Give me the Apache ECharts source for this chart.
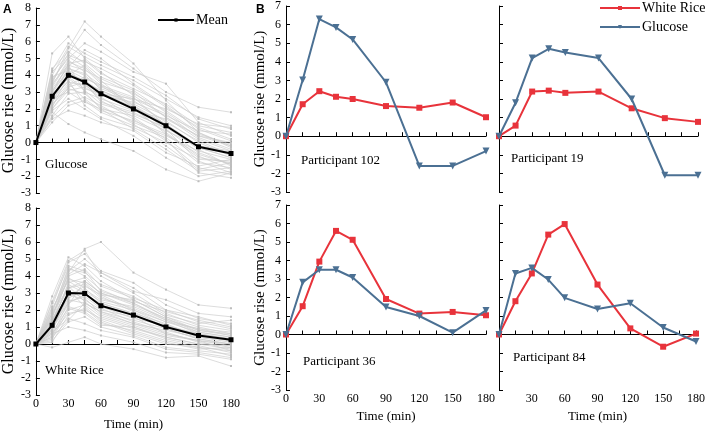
<!DOCTYPE html>
<html>
<head>
<meta charset="utf-8">
<script src="https://cdn.jsdelivr.net/npm/echarts@6/dist/echarts.min.js"></script>
<style>html,body{margin:0;padding:0;background:#fff}#c{width:708px;height:432px}</style>
</head>
<body>
<div id="c"></div>
<script>
const times = [0, 15, 30, 45, 60, 90, 120, 150, 180];
const xTickLabels = [0, 30, 60, 90, 120, 150, 180];

// Panel A: mean curves
const meanGlucose = [0, 2.75, 4.0, 3.6, 2.9, 2.0, 1.0, -0.25, -0.65];
const meanRice = [0, 1.1, 3.0, 2.97, 2.25, 1.7, 1.0, 0.5, 0.25];

// Panel A: individual glucose responses (read approximately)
const indGlucose = [
  [0,2.8,4.1,3.7,3.0,2.1,1.1,-0.2,-0.6],
  [0,5.3,6.3,5.0,4.2,2.8,1.5,0.2,-0.5],
  [0,3.5,5.6,7.2,6.3,4.7,2.5,0.6,-0.3],
  [0,1.2,2.2,2.5,1.8,1.0,0.3,-1.2,-1.5],
  [0,2.0,3.1,3.3,2.7,1.5,0.2,-1.8,-2.1],
  [0,4.2,5.2,4.8,4.4,3.4,2.1,0.9,0.2],
  [0,3.0,4.6,4.3,3.8,2.9,1.9,0.6,-0.2],
  [0,2.4,3.5,2.6,1.9,1.3,0.5,-0.9,-1.2],
  [0,3.8,5.0,5.9,5.4,4.2,3.5,1.2,0.4],
  [0,1.8,1.1,0.6,0.2,-0.5,-1.6,-2.3,-1.8],
  [0,2.6,4.4,4.0,3.2,2.5,1.2,0.1,-0.7],
  [0,3.3,4.8,4.4,3.5,2.2,0.8,-0.6,-1.3],
  [0,2.9,3.8,3.1,2.3,1.7,0.9,-0.3,-0.9],
  [0,1.6,2.9,3.0,2.6,1.9,1.4,0.4,-0.2],
  [0,4.0,5.7,5.1,4.6,3.7,2.6,1.5,1.0],
  [0,2.2,3.4,3.9,3.3,2.6,1.7,0.3,-0.4],
  [0,3.1,4.2,3.5,2.5,1.4,0.1,-1.5,-1.9],
  [0,2.5,3.7,2.2,1.5,0.9,0.0,-1.0,-1.1],
  [0,3.6,5.3,6.7,5.8,4.4,3.0,2.1,1.8],
  [0,2.1,4.0,4.6,3.7,2.0,0.6,-0.8,-1.6],
  [0,3.4,4.9,4.2,3.1,2.3,1.3,0.0,-0.8],
  [0,1.4,1.9,1.6,1.2,0.7,-0.6,-1.4,-1.0],
  [0,2.7,3.6,3.4,2.8,2.4,1.6,0.7,0.5],
  [0,4.4,5.4,4.7,3.9,3.1,1.8,0.5,-0.1],
  [0,2.3,3.2,2.9,2.1,1.2,0.4,-0.5,-1.0],
  [0,3.2,4.5,5.5,5.0,3.5,2.2,0.8,0.1],
  [0,1.9,2.6,2.0,1.4,0.4,-0.9,-2.0,-1.7],
  [0,3.9,4.3,3.8,3.4,2.7,1.0,-0.4,-1.4],
  [0,2.6,3.0,2.4,2.0,1.6,0.7,-0.2,-0.5],
  [0,3.0,4.7,4.9,4.1,3.2,2.3,1.0,0.6],
  [0,2.4,4.2,3.6,2.4,1.8,0.8,-1.1,-1.8],
  [0,3.7,5.1,4.5,3.6,3.0,1.5,0.4,0.0],
  [0,1.5,2.4,2.7,2.2,1.1,-0.2,-1.6,-1.2],
  [0,2.8,3.9,3.2,2.9,2.6,2.0,1.1,0.9],
  [0,3.5,4.6,3.0,2.0,0.8,-0.4,-1.7,-1.5],
  [0,2.0,3.3,3.6,3.1,2.2,1.1,-0.3,-0.9],
  [0,4.3,5.9,5.3,4.8,3.9,2.8,1.4,0.8],
  [0,2.9,4.4,4.1,3.4,2.1,0.5,-0.7,-1.3]
];

// Panel A: individual white rice responses (read approximately)
const indRice = [
  [0,1.0,3.0,3.0,2.3,1.7,1.0,0.5,0.3],
  [0,2.8,5.1,4.6,3.7,2.6,1.6,1.0,0.6],
  [0,1.5,4.2,5.6,6.0,4.2,3.2,2.3,2.1],
  [0,-0.2,0.1,0.4,0.0,-0.3,-0.8,-0.7,-1.3],
  [0,0.6,1.8,2.0,1.5,0.9,0.4,0.0,-0.3],
  [0,1.8,4.5,4.0,3.2,2.4,1.5,0.8,0.5],
  [0,1.2,3.6,3.9,2.9,2.0,1.1,0.6,0.2],
  [0,0.4,2.2,1.9,1.2,0.8,0.2,-0.2,-0.4],
  [0,2.2,4.8,5.3,4.3,3.6,2.3,1.5,1.2],
  [0,0.9,2.6,2.4,1.9,1.4,0.9,0.3,0.0],
  [0,1.4,3.3,3.5,2.7,2.1,1.3,0.7,0.4],
  [0,0.2,1.3,1.6,1.0,0.5,-0.2,-0.4,-0.6],
  [0,1.6,3.9,3.3,2.4,1.8,1.2,0.4,0.1],
  [0,0.8,2.9,2.6,2.0,1.6,0.6,0.2,-0.1],
  [0,2.0,4.1,4.7,4.2,3.3,2.0,1.3,0.9],
  [0,0.5,2.5,2.8,2.1,1.3,0.7,0.1,-0.2],
  [0,1.3,3.4,2.5,1.7,1.1,0.5,0.2,0.0],
  [0,1.1,2.7,3.2,2.6,2.2,1.4,0.9,0.7],
  [0,2.5,4.9,5.5,4.0,3.0,1.8,1.1,0.8],
  [0,0.7,1.5,1.2,0.8,0.4,-0.3,-0.5,-0.8],
  [0,1.7,3.8,3.6,2.8,1.9,1.0,0.6,0.3],
  [0,0.3,2.0,2.3,1.6,1.0,0.3,-0.1,-0.5],
  [0,1.9,4.4,4.2,3.5,2.8,1.7,1.2,1.4],
  [0,1.0,3.1,2.7,1.8,1.2,0.8,0.4,0.2],
  [0,0.9,2.3,3.7,3.0,2.3,1.5,0.7,0.4],
  [0,2.4,4.6,4.3,3.1,2.5,1.9,1.4,1.0],
  [0,0.6,1.0,0.8,0.5,0.1,-0.5,-0.6,-0.9],
  [0,1.2,3.5,3.0,2.2,1.5,1.1,0.5,0.2],
  [0,1.5,2.8,3.4,2.9,2.6,1.6,0.8,0.6],
  [0,0.8,3.2,2.2,1.4,0.7,0.1,-0.3,-0.2],
  [0,1.3,4.0,4.4,3.4,2.7,2.0,1.6,1.1],
  [0,0.1,1.7,2.1,1.3,0.6,0.0,-0.2,-0.7],
  [0,2.1,3.7,3.1,2.5,2.0,1.3,0.9,0.5],
  [0,1.1,2.4,2.9,2.4,1.8,0.9,0.3,0.0],
  [0,0.7,2.1,1.8,1.1,1.0,0.4,0.0,-0.1],
  [0,1.6,4.3,5.0,4.2,3.1,2.6,1.8,1.6],
  [0,0.4,1.4,2.4,1.9,1.2,0.6,0.2,-0.4],
  [0,1.8,3.3,3.7,3.0,2.4,1.4,0.6,0.3]
];

// Panel B: participants
const p102Rice    = [0, 1.72, 2.42, 2.12, 2.0, 1.62, 1.53, 1.81, 1.02];
const p102Glucose = [0, 3.02, 6.3, 5.85, 5.2, 2.9, -1.6, -1.6, -0.8];
const p19Rice     = [0, 0.57, 2.4, 2.45, 2.33, 2.4, 1.5, 0.97, 0.77];
const p19Glucose  = [0, 1.8, 4.2, 4.7, 4.5, 4.2, 2.0, -2.1, -2.1];
const p36Rice     = [0, 1.53, 3.94, 5.6, 5.12, 1.92, 1.13, 1.22, 1.04];
const p36Glucose  = [0, 2.82, 3.5, 3.5, 3.08, 1.49, 1.0, 0.1, 1.3];
const p84Rice     = [0, 1.8, 3.3, 5.4, 5.97, 2.7, 0.33, -0.66, 0.05];
const p84Glucose  = [0, 3.3, 3.6, 2.97, 1.98, 1.38, 1.69, 0.38, -0.38];

const FONT = 'Liberation Serif';
const RED = '#e8333b';
const BLUE = '#4b7093';

const pair = (vals) => times.map((t, i) => [t, vals[i]]);

const grids = [
  {left: 31, top: 8, width: 200, height: 185},
  {left: 31, top: 208, width: 200, height: 187},
  {left: 286, top: 6, width: 200, height: 186},
  {left: 499, top: 6, width: 199, height: 186},
  {left: 286, top: 205, width: 200, height: 185},
  {left: 499, top: 205, width: 199, height: 185}
];

function xAxis(gi, showLabels, hideZero, nameGap) {
  return {
    type: 'value', gridIndex: gi, min: 0, max: 180, interval: 30,
    axisLine: {show: true, lineStyle: {color: '#000', width: 1}},
    axisTick: {show: true, inside: true, length: 4, lineStyle: {color: '#000'}},
    minorTick: {show: true, splitNumber: 2, length: 4, lineStyle: {color: '#000'}},
    splitLine: {show: false},
    axisLabel: {
      show: showLabels, margin: 3, color: '#000', fontFamily: FONT, fontSize: 12,
      formatter: (v) => (hideZero && v === 0) ? '' : String(v)
    },
    name: showLabels ? 'Time (min)' : '', nameLocation: 'middle', nameGap: nameGap || 20,
    nameTextStyle: {color: '#000', fontFamily: FONT, fontSize: 13}
  };
}
function yAxis(gi, min, max, showLabels, nameSize) {
  return {
    type: 'value', gridIndex: gi, min: min, max: max, interval: 1,
    axisLine: {show: true, lineStyle: {color: '#000', width: 1}},
    axisTick: {show: true, inside: true, length: 4, lineStyle: {color: '#000'}},
    splitLine: {show: false},
    axisLabel: {show: showLabels, margin: 5, color: '#000', fontFamily: FONT, fontSize: 12},
    name: showLabels ? 'Glucose rise (mmol/L)' : '', nameLocation: 'middle', nameGap: 14,
    nameTextStyle: {color: '#000', fontFamily: FONT, fontSize: nameSize}
  };
}

const series = [];
function grayLines(list, gi) {
  list.forEach((vals) => {
    series.push({
      type: 'line', xAxisIndex: gi, yAxisIndex: gi, data: pair(vals),
      symbol: 'rect', symbolSize: 2, silent: true,
      lineStyle: {color: '#cdcdcd', width: 0.7},
      itemStyle: {color: '#bdbdbd'}, z: 1
    });
  });
}
grayLines(indGlucose, 0);
grayLines(indRice, 1);
[[meanGlucose, 0], [meanRice, 1]].forEach(([vals, gi]) => {
  series.push({
    name: 'Mean', type: 'line', xAxisIndex: gi, yAxisIndex: gi, data: pair(vals),
    symbol: 'rect', symbolSize: 5, lineStyle: {color: '#000', width: 2},
    itemStyle: {color: '#000'}, z: 5
  });
});
[[p102Rice, p102Glucose, 2], [p19Rice, p19Glucose, 3], [p36Rice, p36Glucose, 4], [p84Rice, p84Glucose, 5]].forEach(([r, g, gi]) => {
  series.push({
    name: 'White Rice', type: 'line', xAxisIndex: gi, yAxisIndex: gi, data: pair(r),
    symbol: 'rect', symbolSize: 6, lineStyle: {color: RED, width: 2},
    itemStyle: {color: RED}, z: 3
  });
  series.push({
    name: 'Glucose', type: 'line', xAxisIndex: gi, yAxisIndex: gi, data: pair(g),
    symbol: 'triangle', symbolRotate: 180, symbolSize: 7, lineStyle: {color: BLUE, width: 2},
    itemStyle: {color: BLUE}, z: 4
  });
});

const txt = (x, y, s, size, extra) => Object.assign({
  type: 'text', left: x, top: y,
  style: {text: s, fill: '#000', font: size + 'px "' + FONT + '"'}
}, extra || {});

const option = {
  animation: false,
  backgroundColor: '#fff',
  grid: grids,
  xAxis: [xAxis(0, false), xAxis(1, true, false, 23), xAxis(2, false), xAxis(3, false), xAxis(4, true), xAxis(5, true, true)],
  yAxis: [yAxis(0, -3, 8, true, 16), yAxis(1, -3, 8, true, 16), yAxis(2, -3, 7, true, 15), yAxis(3, -3, 7, false, 15), yAxis(4, -3, 7, true, 15), yAxis(5, -3, 7, false, 15)],
  legend: [
    {data: ['Mean'], left: 152, top: 8, itemWidth: 36, itemHeight: 4, itemGap: 4,
     textStyle: {color: '#000', fontFamily: FONT, fontSize: 14, padding: [0, 0, 0, -3]}},
    {data: ['White Rice', 'Glucose'], orient: 'vertical', left: 594, top: -4, itemWidth: 40, itemHeight: 5, itemGap: 5,
     textStyle: {color: '#000', fontFamily: FONT, fontSize: 14, padding: [0, 0, 0, -3]}}
  ],
  graphic: [
    {type: 'text', left: 3, top: 4, style: {text: 'A', fill: '#000', font: 'bold 12px "Liberation Sans"'}},
    {type: 'text', left: 256, top: 4, style: {text: 'B', fill: '#000', font: 'bold 12px "Liberation Sans"'}},
    txt(45, 158, 'Glucose', 13),
    txt(45, 364, 'White Rice', 13),
    txt(301, 154, 'Participant 102', 13),
    txt(511, 152, 'Participant 19', 13),
    txt(303, 355, 'Participant 36', 13),
    txt(513, 351, 'Participant 84', 13)
  ],
  series: series
};

const chart = echarts.init(document.getElementById('c'), null, {renderer: 'canvas'});
chart.setOption(option);
</script>
</body>
</html>
